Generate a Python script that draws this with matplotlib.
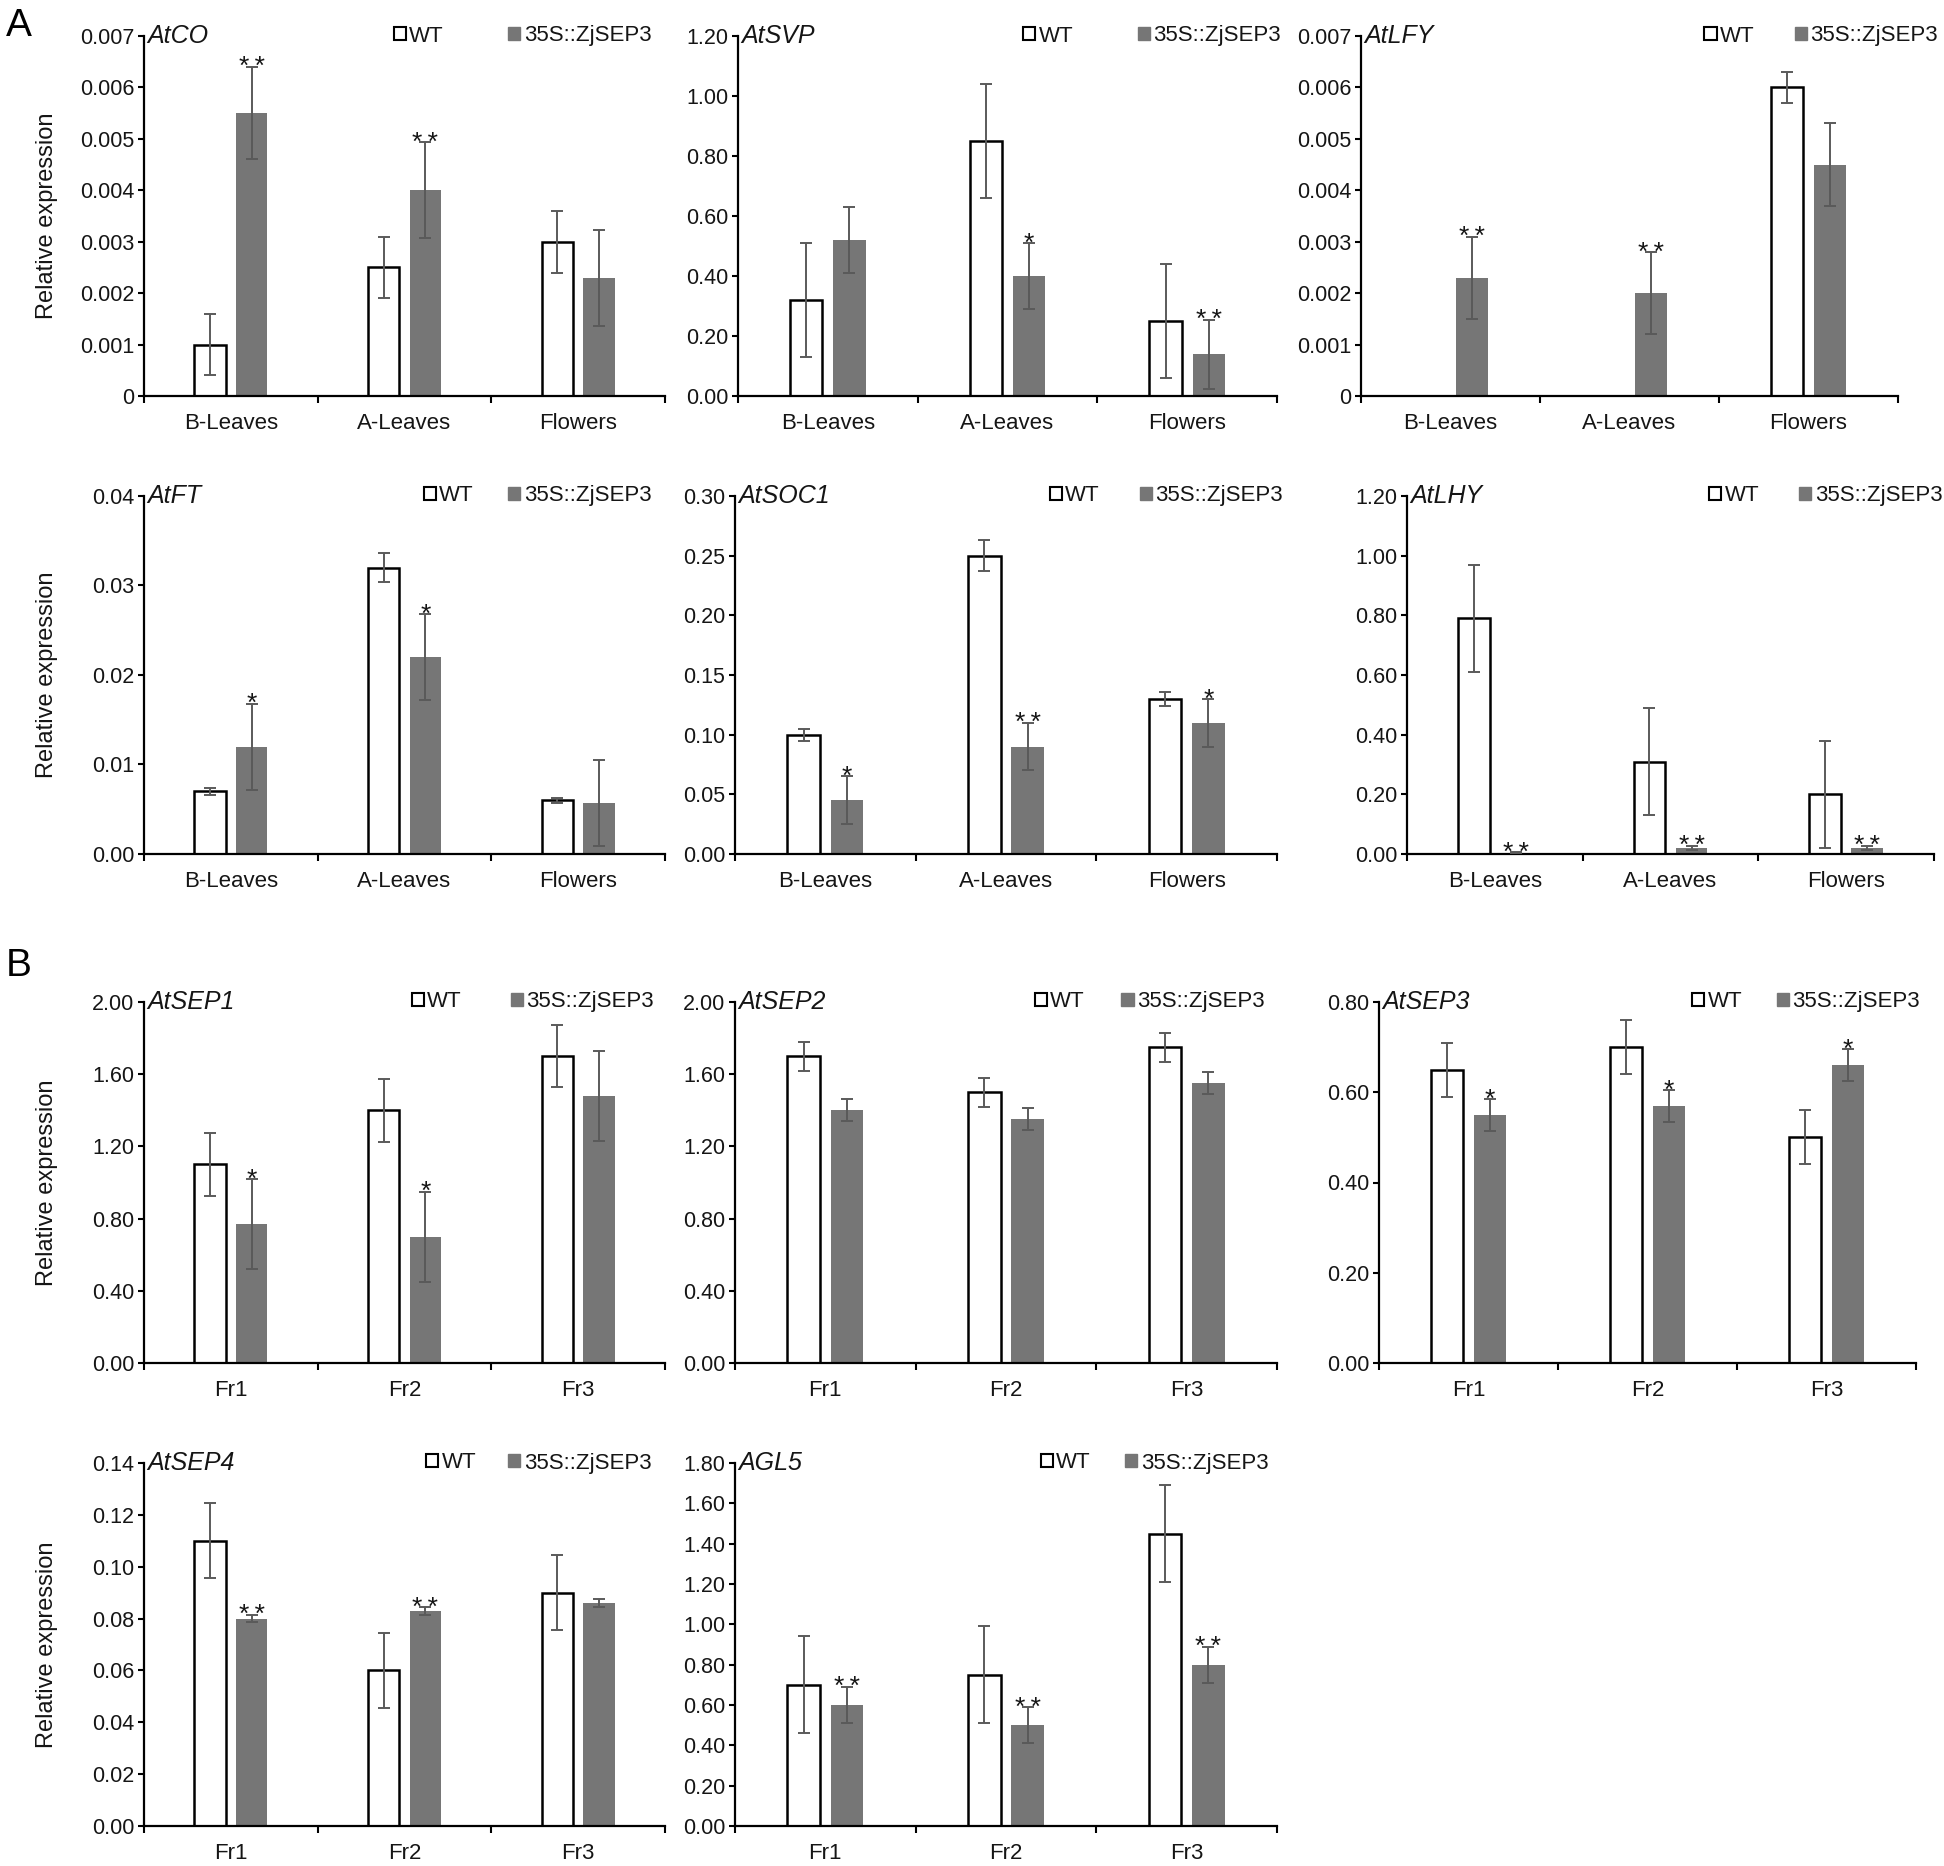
import numpy as np
import matplotlib.pyplot as plt
from matplotlib.patches import Patch
from matplotlib.ticker import FuncFormatter

plt.rcParams['font.family'] = ['Liberation Sans', 'DejaVu Sans']

leaf_groups = ['B-Leaves', 'A-Leaves', 'Flowers']
fruit_groups = ['Fr1', 'Fr2', 'Fr3']
series_names = ['WT', '35S::ZjSEP3']

# values: mean and error for WT and transgenic line
co_wt = [0.0010, 0.0025, 0.0030]
co_wt_err = [0.0006, 0.0006, 0.0006]
co_tg = [0.0055, 0.0040, 0.0023]
co_tg_err = [0.0009, 0.00093, 0.00093]
co_sig = ['**', '**', '']

svp_wt = [0.32, 0.85, 0.25]
svp_wt_err = [0.19, 0.19, 0.19]
svp_tg = [0.52, 0.40, 0.14]
svp_tg_err = [0.11, 0.11, 0.115]
svp_sig = ['', '*', '**']

lfy_wt = [0.0, 0.0, 0.0060]
lfy_wt_err = [0.0, 0.0, 0.0003]
lfy_tg = [0.0023, 0.0020, 0.0045]
lfy_tg_err = [0.0008, 0.0008, 0.0008]
lfy_sig = ['**', '**', '']

ft_wt = [0.007, 0.032, 0.006]
ft_wt_err = [0.0004, 0.0016, 0.0003]
ft_tg = [0.012, 0.022, 0.0057]
ft_tg_err = [0.0048, 0.0048, 0.0048]
ft_sig = ['*', '*', '']

soc1_wt = [0.10, 0.25, 0.13]
soc1_wt_err = [0.005, 0.013, 0.006]
soc1_tg = [0.045, 0.090, 0.110]
soc1_tg_err = [0.020, 0.020, 0.020]
soc1_sig = ['*', '**', '*']

lhy_wt = [0.79, 0.31, 0.20]
lhy_wt_err = [0.18, 0.18, 0.18]
lhy_tg = [0.005, 0.02, 0.02]
lhy_tg_err = [0.002, 0.008, 0.008]
lhy_sig = ['**', '**', '**']

sep1_wt = [1.10, 1.40, 1.70]
sep1_wt_err = [0.175, 0.175, 0.17]
sep1_tg = [0.77, 0.70, 1.48]
sep1_tg_err = [0.25, 0.25, 0.25]
sep1_sig = ['*', '*', '']

sep2_wt = [1.70, 1.50, 1.75]
sep2_wt_err = [0.08, 0.08, 0.08]
sep2_tg = [1.40, 1.35, 1.55]
sep2_tg_err = [0.06, 0.06, 0.06]
sep2_sig = ['', '', '']

sep3_wt = [0.65, 0.70, 0.50]
sep3_wt_err = [0.06, 0.06, 0.06]
sep3_tg = [0.55, 0.57, 0.66]
sep3_tg_err = [0.035, 0.035, 0.035]
sep3_sig = ['*', '*', '*']

sep4_wt = [0.110, 0.060, 0.090]
sep4_wt_err = [0.0145, 0.0145, 0.0145]
sep4_tg = [0.080, 0.083, 0.086]
sep4_tg_err = [0.0015, 0.0015, 0.0015]
sep4_sig = ['**', '**', '']

agl5_wt = [0.70, 0.75, 1.45]
agl5_wt_err = [0.24, 0.24, 0.24]
agl5_tg = [0.60, 0.50, 0.80]
agl5_tg_err = [0.09, 0.09, 0.09]
agl5_sig = ['**', '**', '**']

panels = [
    ('AtCO', leaf_groups, co_wt, co_wt_err, co_tg, co_tg_err, co_sig, 0.007, 0.001, 3),
    ('AtSVP', leaf_groups, svp_wt, svp_wt_err, svp_tg, svp_tg_err, svp_sig, 1.2, 0.2, 2),
    ('AtLFY', leaf_groups, lfy_wt, lfy_wt_err, lfy_tg, lfy_tg_err, lfy_sig, 0.007, 0.001, 3),
    ('AtFT', leaf_groups, ft_wt, ft_wt_err, ft_tg, ft_tg_err, ft_sig, 0.04, 0.01, 2),
    ('AtSOC1', leaf_groups, soc1_wt, soc1_wt_err, soc1_tg, soc1_tg_err, soc1_sig, 0.30, 0.05, 2),
    ('AtLHY', leaf_groups, lhy_wt, lhy_wt_err, lhy_tg, lhy_tg_err, lhy_sig, 1.2, 0.2, 2),
    ('AtSEP1', fruit_groups, sep1_wt, sep1_wt_err, sep1_tg, sep1_tg_err, sep1_sig, 2.0, 0.4, 2),
    ('AtSEP2', fruit_groups, sep2_wt, sep2_wt_err, sep2_tg, sep2_tg_err, sep2_sig, 2.0, 0.4, 2),
    ('AtSEP3', fruit_groups, sep3_wt, sep3_wt_err, sep3_tg, sep3_tg_err, sep3_sig, 0.8, 0.2, 2),
    ('AtSEP4', fruit_groups, sep4_wt, sep4_wt_err, sep4_tg, sep4_tg_err, sep4_sig, 0.14, 0.02, 2),
    ('AGL5', fruit_groups, agl5_wt, agl5_wt_err, agl5_tg, agl5_tg_err, agl5_sig, 1.8, 0.2, 2),
]

# axes boxes in pixels: left, right, top, bottom
W, H = 1944, 1866
boxes = [
    (144, 665, 36, 396), (738, 1277, 36, 396), (1361, 1898, 36, 396),
    (144, 665, 496, 854), (735, 1277, 496, 854), (1407, 1934, 496, 854),
    (144, 665, 1002, 1363), (735, 1277, 1002, 1363), (1379, 1916, 1002, 1363),
    (144, 665, 1463, 1826), (735, 1277, 1463, 1826),
]
legend_x = [0.974, 1.007, 1.074, 0.974, 1.011, 1.016, 0.979, 0.977, 1.007, 0.974, 0.984]
legend_gap = [2.9, 2.9, 1.8, 1.55, 1.8, 1.8, 2.2, 1.65, 1.55, 1.45, 1.55]
with_ylabel = [True, False, False, True, False, False, True, False, False, True, False]

gray = '#767676'
err_col = '#5a5a5a'
txt_col = '#151515'

fig = plt.figure(figsize=(W / 100, H / 100), dpi=100)

for i, (gene, groups, wt, wt_err, tg, tg_err, sig, ymax, step, dec) in enumerate(panels):
    l, r, t, b = boxes[i]
    ax = fig.add_axes([l / W, 1 - b / H, (r - l) / W, (b - t) / H])
    x = np.arange(len(groups))
    off, bw = 0.12, 0.18
    wt = np.array(wt); tg = np.array(tg)
    wt_err = np.array(wt_err); tg_err = np.array(tg_err)

    ax.bar(x - off, wt, bw, facecolor='white', edgecolor='black', linewidth=1.8, zorder=2)
    ax.bar(x + off, tg, bw, color=gray, zorder=2)
    m = wt_err > 0
    ax.errorbar(x[m] - off, wt[m], yerr=wt_err[m], fmt='none', ecolor=err_col,
                elinewidth=1.4, capsize=4, capthick=1.4, zorder=3)
    m = tg_err > 0
    ax.errorbar(x[m] + off, tg[m], yerr=tg_err[m], fmt='none', ecolor=err_col,
                elinewidth=1.4, capsize=4, capthick=1.4, zorder=3)

    # significance stars above the transgenic bars
    for xi, v, e, s in zip(x, tg, tg_err, sig):
        if s:
            ax.annotate('\u2009'.join(s), (xi + off, v + e), xytext=(0, -5.5),
                        textcoords='offset points', ha='center', va='baseline',
                        fontsize=19, color=txt_col)

    ax.set_xlim(-0.5, len(groups) - 0.5)
    ax.set_ylim(0, ymax)
    ax.set_yticks(np.arange(0, ymax + step / 2, step))
    if dec == 3:
        fmt = FuncFormatter(lambda v, p: '0' if abs(v) < 1e-12 else f'{v:.3f}')
    else:
        fmt = FuncFormatter(lambda v, p: f'{v:.2f}')
    ax.yaxis.set_major_formatter(fmt)

    ax.set_xticks(np.arange(len(groups) + 1) - 0.5)
    ax.set_xticklabels([])
    ax.set_xticks(x, minor=True)
    ax.set_xticklabels(groups, minor=True, fontsize=16, color=txt_col)
    ax.tick_params(axis='x', which='major', direction='out', length=5, width=1.5, color='black')
    ax.tick_params(axis='x', which='minor', length=0, pad=12)
    ax.tick_params(axis='y', direction='out', length=4, width=1.5, labelsize=15.5,
                   labelcolor=txt_col, pad=3)

    for sp in ['top', 'right']:
        ax.spines[sp].set_visible(False)
    for sp in ['left', 'bottom']:
        ax.spines[sp].set_linewidth(1.6)
        ax.spines[sp].set_color('black')

    ax.text(0.006, 1.0, gene, transform=ax.transAxes, ha='left', va='center',
            fontsize=18, style='italic', color=txt_col)

    handles = [Patch(facecolor='white', edgecolor='black', linewidth=1.5, label=series_names[0]),
               Patch(facecolor=gray, edgecolor=gray, label=series_names[1])]
    leg = ax.legend(handles=handles, ncol=2, loc='center right', bbox_to_anchor=(legend_x[i], 1.0),
                    frameon=False, fontsize=16, handlelength=0.55, handleheight=0.55,
                    handletextpad=0.15, columnspacing=legend_gap[i], borderaxespad=0, borderpad=0)
    for tx in leg.get_texts():
        tx.set_color(txt_col)

    if with_ylabel[i]:
        ax.set_ylabel('Relative expression', fontsize=17, color=txt_col)
        ax.yaxis.set_label_coords(-0.166, 0.5)

fig.text(6 / W, 1 - 8 / H, 'A', fontsize=28, va='top', ha='left')
fig.text(6 / W, 1 - 948 / H, 'B', fontsize=28, va='top', ha='left')

fig.savefig('out.png', dpi=100, facecolor='white')
